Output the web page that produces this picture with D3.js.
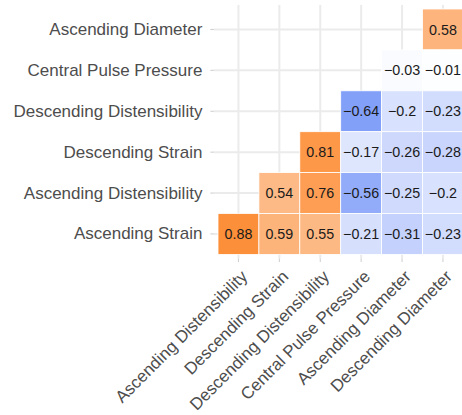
<!DOCTYPE html>
<html>
<head>
<meta charset="utf-8">
<script src="https://cdn.jsdelivr.net/npm/d3@7"></script>
<style>
  html, body { margin: 0; padding: 0; background: #fff; }
  svg { display: block; }
</style>
</head>
<body>
<svg id="chart" width="462" height="415"></svg>
<script>
// Variables on the horizontal axis (left to right)
const columns = ["Ascending Distensibility", "Descending Strain", "Descending Distensibility",
                 "Central Pulse Pressure", "Ascending Diameter", "Descending Diameter"];
// Variables on the vertical axis (top to bottom)
const rows = ["Ascending Diameter", "Central Pulse Pressure", "Descending Distensibility",
              "Descending Strain", "Ascending Distensibility", "Ascending Strain"];

// Correlation coefficients, one array per row, aligned with `columns` (null = not shown)
const ascendingDiameter        = [null, null, null, null, null, 0.58];
const centralPulsePressure     = [null, null, null, null, -0.03, -0.01];
const descendingDistensibility = [null, null, null, -0.64, -0.2, -0.23];
const descendingStrain         = [null, null, 0.81, -0.17, -0.26, -0.28];
const ascendingDistensibility  = [null, 0.54, 0.76, -0.56, -0.25, -0.2];
const ascendingStrain          = [0.88, 0.59, 0.55, -0.21, -0.31, -0.23];

const rowValues = [ascendingDiameter, centralPulsePressure, descendingDistensibility,
                   descendingStrain, ascendingDistensibility, ascendingStrain];

const cells = [];
rows.forEach((r, i) => rowValues[i].forEach((v, j) => {
  if (v !== null) cells.push({ row: r, col: columns[j], value: v });
}));

const svg = d3.select("#chart");
const unit = 40.9;                    // size of one tile
const cellLeft = 218, cellTop = 9;
const pad = 0.1 * unit;               // panel extends a little past the tiles

const x = d3.scaleBand().domain(columns).range([cellLeft, cellLeft + unit * columns.length]);
const y = d3.scaleBand().domain(rows).range([cellTop, cellTop + unit * rows.length]);

const panel = {
  left: cellLeft - pad, right: cellLeft + unit * columns.length + pad,
  top: cellTop - pad, bottom: cellTop + unit * rows.length + pad
};

// Diverging fill: blue for negative, white at zero, orange for positive
const high = "#fc801e", low = "#3d6af5";
const fill = v => v >= 0 ? d3.interpolateRgb("#ffffff", high)(v)
                         : d3.interpolateRgb("#ffffff", low)(-v);

const fontFamily = "'Liberation Sans', Arial, sans-serif";
const gridColor = "#ebebeb";

// Major grid lines
const grid = svg.append("g");
grid.selectAll("line.v").data(columns).join("line")
  .attr("x1", d => x(d) + x.bandwidth() / 2).attr("x2", d => x(d) + x.bandwidth() / 2)
  .attr("y1", panel.top).attr("y2", panel.bottom)
  .attr("stroke", gridColor).attr("stroke-width", 2);
grid.selectAll("line.h").data(rows).join("line")
  .attr("y1", d => y(d) + y.bandwidth() / 2).attr("y2", d => y(d) + y.bandwidth() / 2)
  .attr("x1", panel.left).attr("x2", panel.right)
  .attr("stroke", gridColor).attr("stroke-width", 2);

// Tiles
svg.append("g").selectAll("rect").data(cells).join("rect")
  .attr("x", d => x(d.col)).attr("y", d => y(d.row))
  .attr("width", x.bandwidth()).attr("height", y.bandwidth())
  .attr("fill", d => fill(d.value))
  .attr("stroke", "#ffffff").attr("stroke-width", 0.8);

// Coefficient labels
const fmt = v => String(v).replace("-", "\u2212");
svg.append("g").selectAll("text").data(cells).join("text")
  .attr("x", d => x(d.col) + x.bandwidth() / 2)
  .attr("y", d => y(d.row) + y.bandwidth() / 2)
  .attr("dy", "0.36em")
  .attr("text-anchor", "middle")
  .attr("font-family", fontFamily).attr("font-size", 14.3)
  .attr("fill", "#1a1a1a")
  .text(d => fmt(d.value));

// Y axis
const yAxis = svg.append("g").attr("transform", `translate(${panel.left},0)`)
  .call(d3.axisLeft(y).tickSize(3.5).tickPadding(8));
yAxis.select(".domain").remove();
yAxis.selectAll(".tick line").attr("stroke", "#cccccc").attr("stroke-width", 1);
yAxis.selectAll(".tick text")
  .attr("font-family", fontFamily).attr("font-size", 17).attr("fill", "#4d4d4d");

// X axis with slanted labels
const xAxis = svg.append("g").attr("transform", `translate(0,${panel.bottom})`)
  .call(d3.axisBottom(x).tickSize(3.5));
xAxis.select(".domain").remove();
xAxis.selectAll(".tick line").attr("stroke", "#cccccc").attr("stroke-width", 1);
xAxis.selectAll(".tick text")
  .attr("font-family", fontFamily).attr("font-size", 17).attr("fill", "#4d4d4d")
  .attr("text-anchor", "end")
  .attr("x", 0).attr("y", 0)
  .attr("dy", "0.75em")
  .attr("transform", "translate(1,10) rotate(-45)");
</script>
</body>
</html>
